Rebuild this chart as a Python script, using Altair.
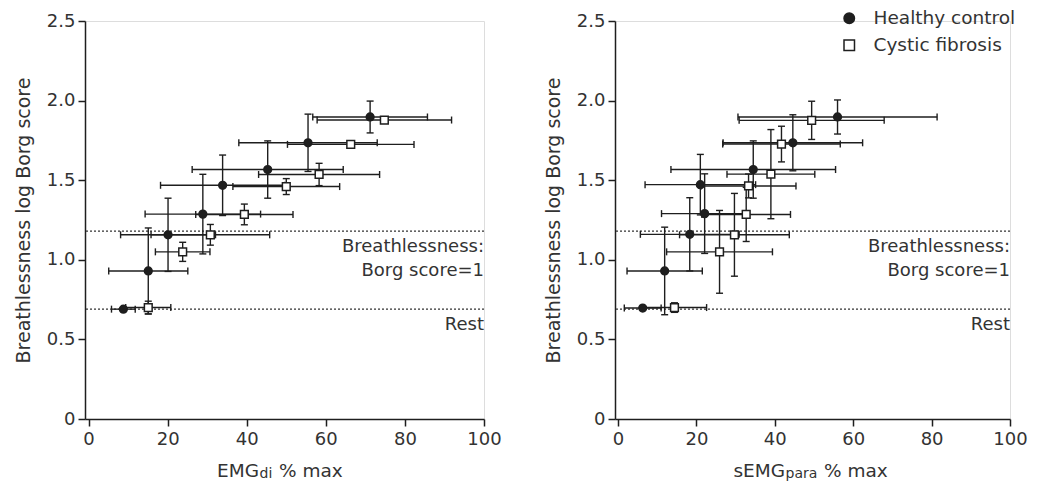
import altair as alt
import pandas as pd

groups = ["Healthy control", "Cystic fibrosis"]

# ---- Left panel: EMGdi % max ----
di_hc_x = [8.8, 15.1, 20.1, 28.9, 33.9, 45.3, 55.5, 71.2]
di_hc_xerr = [3.0, 10.0, 12.0, 14.6, 15.7, 19.1, 17.5, 14.5]
di_hc_y = [0.69, 0.93, 1.157, 1.287, 1.468, 1.567, 1.735, 1.897]
di_hc_yerr = [0.0, 0.27, 0.23, 0.25, 0.19, 0.18, 0.18, 0.10]

di_cf_x = [15.1, 23.8, 30.8, 39.4, 50.0, 58.3, 66.3, 74.8]
di_cf_xerr = [5.7, 6.9, 15.0, 12.3, 13.5, 15.3, 16.0, 17.0]
di_cf_y = [0.70, 1.05, 1.157, 1.285, 1.46, 1.536, 1.725, 1.878]
di_cf_yerr = [0.04, 0.06, 0.065, 0.065, 0.05, 0.07, 0.02, 0.02]

# ---- Right panel: sEMGpara % max ----
pa_hc_x = [6.3, 11.9, 18.3, 22.1, 21.0, 34.5, 44.6, 56.0]
pa_hc_xerr = [4.7, 9.6, 12.6, 11.0, 14.1, 21.0, 17.8, 25.4]
pa_hc_y = [0.697, 0.93, 1.16, 1.29, 1.472, 1.567, 1.735, 1.897]
pa_hc_yerr = [0.0, 0.275, 0.23, 0.25, 0.19, 0.18, 0.176, 0.107]

pa_cf_x = [14.4, 25.9, 29.7, 32.7, 33.3, 39.0, 41.7, 49.4]
pa_cf_xerr = [8.2, 13.5, 14.0, 11.3, 12.1, 11.2, 15.0, 18.5]
pa_cf_y = [0.70, 1.05, 1.157, 1.285, 1.464, 1.538, 1.727, 1.876]
pa_cf_yerr = [0.03, 0.26, 0.26, 0.17, 0.075, 0.28, 0.112, 0.12]

x_ticks = [0, 20, 40, 60, 80, 100]
y_ticks = [0, 0.5, 1.0, 1.5, 2.0, 2.5]

ref_y = [1.18, 0.69]
ref_text = ["Breathlessness:\nBorg score=1", "Rest"]
y_title = "Breathlessness log Borg score"

INK = "#1e1e1e"
TXT = "#333333"
FONT = "DejaVu Sans"
FS = 18
H = 398


def make_df(hx, hxe, hy, hye, cx, cxe, cy, cye):
    rows = []
    for g, xs, xes, ys, yes in [(groups[0], hx, hxe, hy, hye), (groups[1], cx, cxe, cy, cye)]:
        for x, xe, y, ye in zip(xs, xes, ys, yes):
            rows.append(dict(group=g, x=x, xlo=x - xe, xhi=x + xe, y=y, ylo=y - ye, yhi=y + ye, ye=ye))
    return pd.DataFrame(rows)


def panel(df, xmin, width, main, sub, anchor, sub_w, show_legend):
    xs = alt.Scale(domain=[xmin, 100], nice=False, zero=False)
    ys = alt.Scale(domain=[0, 2.5], nice=False, zero=False)
    xax = alt.Axis(values=x_ticks, title=None, grid=False, tickSize=7, labelPadding=4,
                   domainColor=INK, tickColor=INK, domainWidth=1.5, tickWidth=1.5,
                   labelFont=FONT, labelFontSize=FS, labelColor=TXT, labelFlush=False)
    yax = alt.Axis(values=y_ticks, title=y_title, grid=False, tickSize=7, labelPadding=3,
                   titlePadding=13, domainColor=INK, tickColor=INK, domainWidth=1.5, tickWidth=1.5,
                   labelFont=FONT, labelFontSize=FS, labelColor=TXT,
                   titleFont=FONT, titleFontSize=19, titleColor=TXT, titleFontWeight="normal",
                   labelExpr="datum.value == 0 ? '0' : format(datum.value, '.1f')", labelFlush=False)
    base = alt.Chart(df)
    X = alt.X("x:Q", scale=xs, axis=xax)
    Y = alt.Y("y:Q", scale=ys, axis=yax)

    hbar = base.mark_rule(color=INK, strokeWidth=1.4).encode(
        x=alt.X("xlo:Q", scale=xs, axis=xax), x2="xhi:Q", y=Y)
    vbar = base.transform_filter("datum.ye > 0").mark_rule(color=INK, strokeWidth=1.4).encode(
        x=X, y=alt.Y("ylo:Q", scale=ys, axis=yax), y2="yhi:Q")
    cap_xl = base.mark_tick(orient="vertical", size=7, thickness=1.4, color=INK, opacity=1).encode(
        x=alt.X("xlo:Q", scale=xs, axis=xax), y=Y)
    cap_xh = base.mark_tick(orient="vertical", size=7, thickness=1.4, color=INK, opacity=1).encode(
        x=alt.X("xhi:Q", scale=xs, axis=xax), y=Y)
    cap_yl = base.transform_filter("datum.ye > 0").mark_tick(orient="horizontal", size=7, thickness=1.4,
                                                               color=INK, opacity=1).encode(
        x=X, y=alt.Y("ylo:Q", scale=ys, axis=yax))
    cap_yh = base.transform_filter("datum.ye > 0").mark_tick(orient="horizontal", size=7, thickness=1.4,
                                                               color=INK, opacity=1).encode(
        x=X, y=alt.Y("yhi:Q", scale=ys, axis=yax))

    if show_legend:
        leg = alt.Legend(title=None, orient="none", legendX=225, legendY=-12,
                         labelFont=FONT, labelFontSize=FS + 0.5, labelColor=TXT,
                         symbolSize=110, symbolStrokeWidth=1.5,
                         labelOffset=15, rowPadding=8, padding=0)
    else:
        leg = None
    pts = base.mark_point(size=60, strokeWidth=1.5, opacity=1, fillOpacity=1).encode(
        x=X, y=Y,
        shape=alt.Shape("group:N", scale=alt.Scale(domain=groups, range=["circle", "square"]), legend=leg),
        fill=alt.Fill("group:N", scale=alt.Scale(domain=groups, range=[INK, "white"]), legend=leg),
        stroke=alt.Stroke("group:N", scale=alt.Scale(domain=groups, range=[INK, INK]), legend=leg),
    )

    refs = pd.DataFrame({"y": ref_y, "text": ref_text, "x": [100, 100]})
    rbase = alt.Chart(refs)
    rules = rbase.mark_rule(color=TXT, strokeDash=[2, 2], strokeWidth=1.2).encode(
        y=alt.Y("y:Q", scale=ys, axis=yax))
    notes = rbase.mark_text(align="right", baseline="top", dy=7, font=FONT, fontSize=FS,
                            color=TXT, lineBreak="\n", lineHeight=24).encode(
        x=alt.X("x:Q", scale=xs, axis=xax), y=alt.Y("y:Q", scale=ys, axis=yax), text="text:N")

    tdf = pd.DataFrame({"a": [main], "b": [sub], "c": ["% max"]})
    tb = alt.Chart(tdf)
    ty = H + 58
    t1 = tb.mark_text(align="right", baseline="alphabetic", font=FONT, fontSize=FS + 0.5, color=TXT).encode(
        x=alt.value(anchor), y=alt.value(ty), text="a:N")
    t2 = tb.mark_text(align="left", baseline="alphabetic", font=FONT, fontSize=14, color=TXT, dy=1).encode(
        x=alt.value(anchor + 0.5), y=alt.value(ty), text="b:N")
    t3 = tb.mark_text(align="left", baseline="alphabetic", font=FONT, fontSize=FS + 0.5, color=TXT,
                      dx=sub_w).encode(
        x=alt.value(anchor), y=alt.value(ty), text="c:N")

    return alt.layer(rules, notes, hbar, vbar, cap_xl, cap_xh, cap_yl, cap_yh, pts, t1, t2, t3).properties(
        width=width, height=H)


left_df = make_df(di_hc_x, di_hc_xerr, di_hc_y, di_hc_yerr, di_cf_x, di_cf_xerr, di_cf_y, di_cf_yerr)
right_df = make_df(pa_hc_x, pa_hc_xerr, pa_hc_y, pa_hc_yerr, pa_cf_x, pa_cf_xerr, pa_cf_y, pa_cf_yerr)

left = panel(left_df, -0.9, 399, "EMG", "di", 174, 20, False)
right = panel(right_df, -0.77, 395, "sEMG", "para", 170, 39, True)

chart = alt.hconcat(left, right, spacing=41).resolve_scale(
    shape="independent", fill="independent", stroke="independent").resolve_legend(
    shape="independent", fill="independent", stroke="independent").properties(
    padding={"left": 5, "top": 0, "right": 5, "bottom": 0}
).configure_view(stroke=None).configure(background="white")

chart.save("out.html", embed_options={"renderer": "svg", "actions": False})
